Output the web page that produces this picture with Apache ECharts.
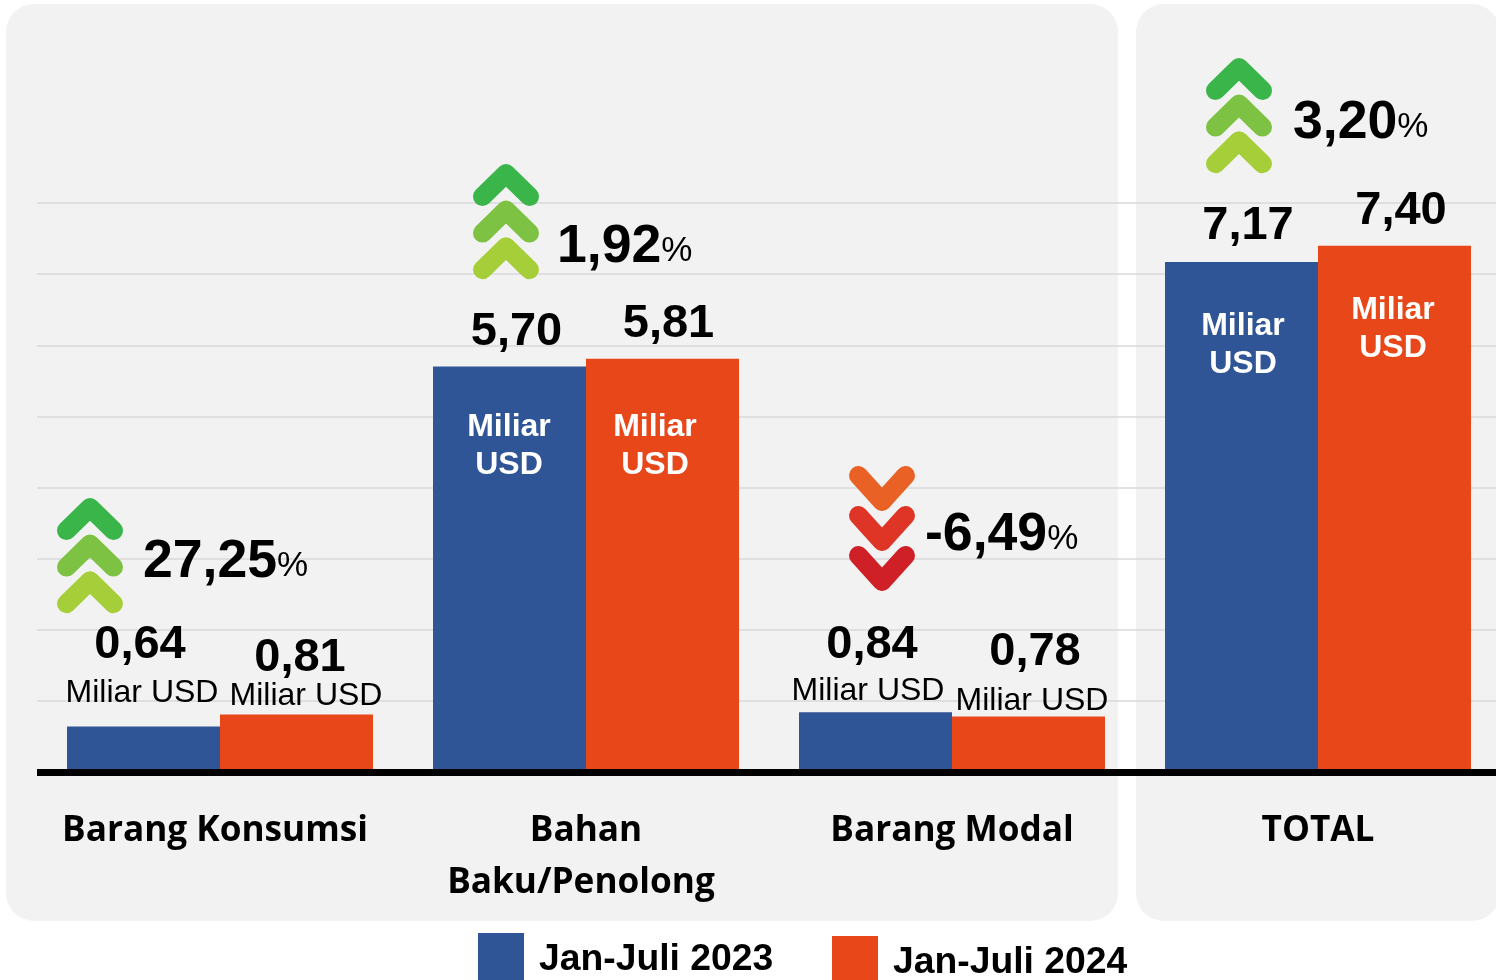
<!DOCTYPE html>
<html><head><meta charset="utf-8">
<script src="https://cdn.jsdelivr.net/npm/echarts@6/dist/echarts.min.js"></script>
<style>html,body{margin:0;padding:0;background:#fff;overflow:hidden;width:1496px;height:980px}#c{width:1504px;height:980px}</style>
</head><body><div id="c"></div>
<script>
const categories = ['Barang Konsumsi', 'Bahan\nBaku/Penolong', 'Barang Modal', 'TOTAL'];
const seriesNames = ['Jan-Juli 2023', 'Jan-Juli 2024'];
const values2023 = [0.64, 5.70, 0.84, 7.17];
const values2024 = [0.81, 5.81, 0.78, 7.40];
const changes = ['27,25', '1,92', '-6,49', '3,20'];

const FONT = '"Liberation Sans", Arial, sans-serif';
const CATFONT = '"Open Sans", sans-serif';
const BLUE = '#2F5597', RED = '#E8471A';
const fmt = v => v.toFixed(2).replace('.', ',');

// label nudges: [dx, dy] from the default top-of-bar label position
const labelNudge = [
  [[-3.5, -52.5], [7, -6.5], [-3.5, -38.5], [6.5, -7.5]],
  [[3.5, -27.5], [6, -6], [6.5, -35.5], [6.5, -6.5]]
];
// unit labels: [dx from bar centre, dy from bar top]
const unitLayout = [
  [[-1.5, -33], [-0.5, 79.5], [-7.5, -21], [1.5, 83.5]],
  [[9.5, -18], [-7.5, 87], [3.5, -15], [-1.5, 83]]
];
const unitItems = [];
[values2023, values2024].forEach((vals, s) => vals.forEach((v, c) => unitItems.push([c, v, s])));

function barSeries(name, vals, color, idx) {
  return {
    type: 'bar', name, barWidth: 153, barGap: 0, z: 3,
    itemStyle: {color},
    data: vals.map((v, i) => ({
      value: v,
      label: {offset: labelNudge[idx][i]}
    })),
    label: {
      show: true, position: 'top', distance: 5,
      formatter: p => fmt(p.value),
      color: '#000', fontFamily: FONT, fontWeight: 'bold', fontSize: 47
    }
  };
}

// change indicators
const chevronUp = ['#39B54A', '#7DC242', '#A6CE39'];
const chevronDown = ['#E96125', '#DE3526', '#CF2027'];
const changeLayout = [
  {cx: 90, top: 498, text: [143, 562]},
  {cx: 506, top: 164, text: [557, 247]},
  {cx: 882, top: 466, text: [925, 535]},
  {cx: 1239, top: 58, text: [1293, 123]}
];
const graphics = [
  {type: 'rect', z: -10, silent: true, shape: {x: 6, y: 4, width: 1112, height: 917, r: 28}, style: {fill: '#F2F2F2'}},
  {type: 'rect', z: -10, silent: true, shape: {x: 1136, y: 4, width: 364, height: 917, r: 28}, style: {fill: '#F2F2F2'}}
];
changes.forEach((t, i) => {
  const L = changeLayout[i], down = t[0] === '-';
  for (let k = 0; k < 3; k++) {
    const pts = down
      ? (y => [[L.cx - 23.5, y], [L.cx, y + 26], [L.cx + 23.5, y]])(L.top + 9.5 + k * 40)
      : (y => [[L.cx - 23.5, y + 23], [L.cx, y], [L.cx + 23.5, y + 23]])(L.top + 9.5 + k * 36.6);
    graphics.push({
      type: 'polyline', z: 10 + k, silent: true,
      shape: {points: pts},
      style: {stroke: (down ? chevronDown : chevronUp)[k], fill: null, lineWidth: 19, lineCap: 'round', lineJoin: 'round'}
    });
  }
  graphics.push({
    type: 'text', z: 20, silent: true, x: L.text[0], y: L.text[1],
    style: {
      text: '{v|' + t + '}{p|%}', align: 'left', verticalAlign: 'middle',
      rich: {
        v: {font: 'bold 53.6px ' + FONT, fill: '#000'},
        p: {font: '35px ' + FONT, fill: '#000', verticalAlign: 'bottom', padding: [0, 0, 5, 0]}
      }
    }
  });
});

const legendText = {
  fontFamily: FONT, fontWeight: 'bold', fontSize: 37.3, color: '#000',
  rich: {a: {fontFamily: FONT, fontWeight: 'bold', fontSize: 37.3, color: '#000', padding: [6, 0, 0, 10]}}
};
const chart = echarts.init(document.getElementById('c'), null, {renderer: 'canvas'});
chart.setOption({
  animation: false,
  backgroundColor: '#fff',
  graphic: graphics,
  legend: [
    {data: [seriesNames[0]], left: 478, top: 933, padding: 0, icon: 'rect', itemWidth: 46, itemHeight: 47, selectedMode: false,
     formatter: '{a|{name}}', textStyle: legendText},
    {data: [seriesNames[1]], left: 832, top: 936, padding: 0, icon: 'rect', itemWidth: 46, itemHeight: 47, selectedMode: false,
     formatter: '{a|{name}}', textStyle: legendText}
  ],
  grid: {left: 37, width: 1464, top: 203, height: 569, containLabel: false},
  xAxis: {
    type: 'category', data: categories,
    axisTick: {show: false},
    axisLine: {show: true, lineStyle: {color: '#000', width: 7, cap: 'butt'}},
    z: 5,
    axisLabel: {
      interval: 0, margin: 33, color: '#000', fontFamily: CATFONT, fontWeight: 'bold', fontSize: 35.2,
      lineHeight: 52,
      formatter: v => {
        if (v.includes('\n')) { const p = v.split('\n'); return '{a|' + p[0] + '}\n{b|' + p[1] + '}'; }
        return v === categories[0] ? '{b|' + v + '}' : '{a|' + v + '}';
      },
      rich: {
        a: {fontFamily: CATFONT, fontWeight: 'bold', fontSize: 35.2, lineHeight: 52, color: '#000'},
        b: {fontFamily: CATFONT, fontWeight: 'bold', fontSize: 35.2, lineHeight: 52, color: '#000', padding: [0, 10, 0, 0]}
      }
    }
  },
  yAxis: {
    type: 'value', min: 0, max: 8, interval: 1,
    axisLine: {show: false}, axisTick: {show: false}, axisLabel: {show: false},
    splitLine: {show: true, lineStyle: {color: '#D9D9D9', width: 1.5}}
  },
  series: [
    barSeries(seriesNames[0], values2023, BLUE, 0),
    barSeries(seriesNames[1], values2024, RED, 1),
    {
      type: 'custom', name: 'unit', z: 6, silent: true, clip: false,
      data: unitItems,
      encode: {x: 0, y: 1},
      renderItem: (params, api) => {
        const c = api.value(0), s = api.value(2);
        const p = api.coord([c, api.value(1)]);
        const big = api.value(1) > 3;
        const L = unitLayout[s][c];
        return {
          type: 'text',
          x: p[0] + (s === 0 ? -76.5 : 76.5) + L[0],
          y: p[1] + L[1],
          style: {
            text: big ? 'Miliar\nUSD' : 'Miliar USD',
            align: 'center', verticalAlign: 'middle',
            font: (big ? 'bold ' : '') + '32px ' + FONT,
            lineHeight: 38,
            fill: big ? '#fff' : '#000'
          }
        };
      }
    }
  ]
});
</script></body></html>
